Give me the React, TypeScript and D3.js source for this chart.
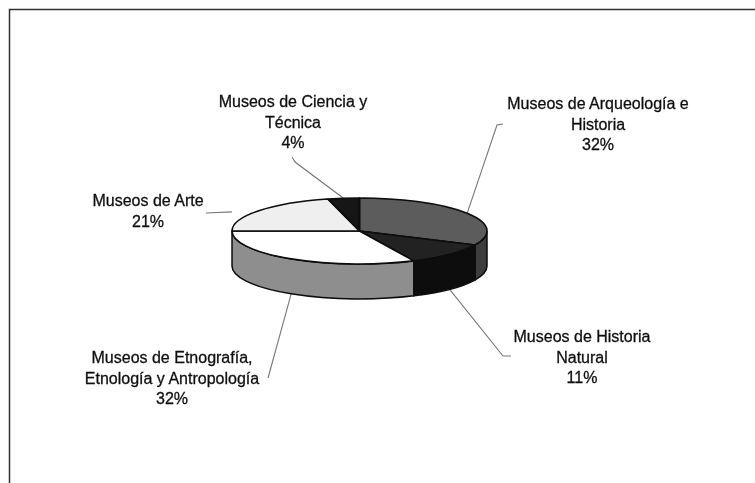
import * as d3 from 'd3';

const categories = [
  'Museos de Arqueología e Historia',
  'Museos de Historia Natural',
  'Museos de Etnografía, Etnología y Antropología',
  'Museos de Arte',
  'Museos de Ciencia y Técnica',
];
const shares = [32, 11, 32, 21, 4];
const labelLines = [
  ['Museos de Arqueología e', 'Historia', '32%'],
  ['Museos de Historia', 'Natural', '11%'],
  ['Museos de Etnografía,', 'Etnología y Antropología', '32%'],
  ['Museos de Arte', '21%'],
  ['Museos de Ciencia y', 'Técnica', '4%'],
];

const topColors = ['#5c5c5c', '#222222', '#ffffff', '#efefef', '#141414'];
const sideColors = ['#3c3c3c', '#0a0a0a', '#8e8e8e', '#8e8e8e', '#141414'];

// x, y: text centre and first baseline. leader: the free end of the leader line,
// with a short hook. rim: 1 when the line leaves the bottom of the wall.
const labelPos = [
  { x: 598, y: 109, leader: [[503, 124], [497, 125]], rim: 0, gap: 0 },
  { x: 582, y: 342, leader: [[511, 356], [503, 356]], rim: 1, gap: 0 },
  { x: 172, y: 363, leader: [[268, 378]], rim: 1, gap: 0 },
  { x: 148, y: 206, leader: [[206, 213]], rim: 0, gap: 0.51 },
  { x: 293, y: 107, leader: [[292, 157], [295, 162]], rim: 0, gap: 0 },
];

const W = 755;
const H = 483;
const cx = 359.5;
const cy = 231;
const rx = 127.5;
const ry = 33;
const depth = 35;
const lineGap = 20.5;

const pie = d3.pie<number>().sort(null).value((d) => d);
const slices = pie(shares);

// angle is clockwise from 12 o'clock, as d3.pie gives it
const px = (a: number) => cx + rx * Math.sin(a);
const py = (a: number, drop = 0) => cy - ry * Math.cos(a) + drop;

function topPath(a0: number, a1: number) {
  const large = a1 - a0 > Math.PI ? 1 : 0;
  return `M${cx},${cy}L${px(a0)},${py(a0)}A${rx},${ry} 0 ${large} 1 ${px(a1)},${py(a1)}Z`;
}

// only the front half of the rim (pi/2 to 3pi/2) is visible
function sidePath(a0: number, a1: number) {
  const s = Math.max(a0, Math.PI / 2);
  const e = Math.min(a1, (3 * Math.PI) / 2);
  if (e <= s) return null;
  return (
    `M${px(s)},${py(s)}A${rx},${ry} 0 0 1 ${px(e)},${py(e)}` +
    `L${px(e)},${py(e, depth)}A${rx},${ry} 0 0 0 ${px(s)},${py(s, depth)}Z`
  );
}

const leaderLine = d3.line();

export default function App() {
  return (
    <svg
      width={W}
      height={H}
      viewBox={`0 0 ${W} ${H}`}
      style={{ position: 'absolute', left: 0, top: 0, background: '#fff' }}
      fontFamily="'Liberation Sans', Arial, sans-serif"
      aria-label={categories.join(', ')}
    >
      <defs>
        <filter id="scan" x="-5%" y="-5%" width="110%" height="110%">
          <feGaussianBlur stdDeviation="0.55" />
        </filter>
        <filter id="scanText" x="-5%" y="-5%" width="110%" height="110%">
          <feGaussianBlur stdDeviation="0.7" />
        </filter>
      </defs>
      <g filter="url(#scan)">
        <path d={`M9.5,${H}V9.5H${W}`} fill="none" stroke="#333" strokeWidth={1.5} />

        {slices.map((s, i) => {
          const mid = (s.startAngle + s.endAngle) / 2;
          const p = labelPos[i];
          const sx = px(mid);
          const sy = py(mid, p.rim * depth);
          const last = p.leader[p.leader.length - 1];
          // the Arte line fades out before it reaches the pie
          const start: [number, number] = p.gap
            ? [last[0] + (sx - last[0]) * (1 - p.gap), last[1] + (sy - last[1]) * (1 - p.gap)]
            : [sx, sy];
          return (
            <path
              key={i}
              d={leaderLine([start, ...[...p.leader].reverse()] as [number, number][]) ?? undefined}
              fill="none"
              stroke="#777"
              strokeWidth={1.1}
            />
          );
        })}

        {slices.map((s, i) => {
          const d = sidePath(s.startAngle, s.endAngle);
          return d ? <path key={i} d={d} fill={sideColors[i]} stroke="#0a0a0a" strokeWidth={1.5} /> : null;
        })}
        {slices.map((s, i) => (
          <path
            key={i}
            d={topPath(s.startAngle, s.endAngle)}
            fill={topColors[i]}
            stroke="#0a0a0a"
            strokeWidth={1.6}
            strokeLinejoin="round"
          />
        ))}
      </g>
      <g filter="url(#scanText)">
        {labelLines.map((lines, i) => (
          <text
            key={i}
            x={labelPos[i].x}
            y={labelPos[i].y}
            textAnchor="middle"
            fontSize={16}
            fill="#111"
            stroke="#111"
            strokeWidth={0.3}
          >
            {lines.map((t, j) => (
              <tspan key={j} x={labelPos[i].x} dy={j === 0 ? 0 : lineGap}>
                {t}
              </tspan>
            ))}
          </text>
        ))}
      </g>
    </svg>
  );
}
